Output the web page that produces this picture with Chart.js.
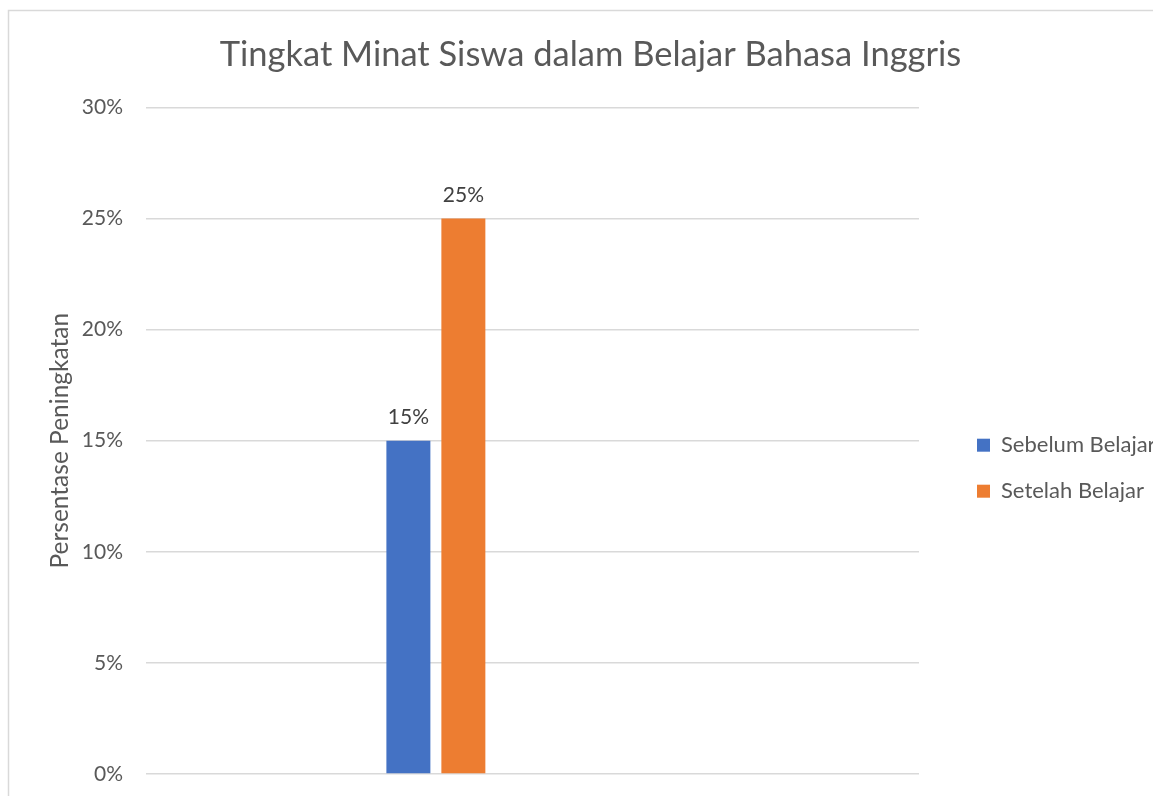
<!DOCTYPE html>
<html>
<head>
<meta charset="utf-8">
<script src="https://cdn.jsdelivr.net/npm/chart.js@4"></script>
<style>
  body { margin: 0; background: #fff; }
  #wrap { width: 1153px; height: 796px; position: relative; }
</style>
</head>
<body>
<div id="wrap"><canvas id="minatChart" width="1153" height="796"></canvas></div>
<script>
const categories = ['', '', '', ''];
const seriesNames = ['Sebelum Belajar', 'Setelah Belajar'];
const sebelum = [null, 0.15, null, null];
const setelah = [null, 0.25, null, null];
const yTicks = [0, 0.05, 0.1, 0.15, 0.2, 0.25, 0.3];

const textColor = '#595959';
const fontName = 'Lato, "Open Sans", sans-serif';

// light frame around the chart, like the office chart border
const framePlugin = {
    id: 'frame',
    beforeDraw: (chart) => {
        const ctx = chart.ctx;
        ctx.save();
        ctx.fillStyle = '#fff';
        ctx.fillRect(0, 0, chart.width, chart.height);
        ctx.strokeStyle = '#d9d9d9';
        ctx.lineWidth = 1.5;
        ctx.strokeRect(8.5, 10.5, 1300, 900);
        ctx.restore();
    }
};

// value labels above bars
const valueLabels = {
    id: 'valueLabels',
    afterDatasetsDraw: (chart) => {
        const ctx = chart.ctx;
        ctx.save();
        ctx.font = '21px ' + fontName;
        ctx.fillStyle = '#404040';
        ctx.textAlign = 'center';
        ctx.textBaseline = 'middle';
        chart.data.datasets.forEach((ds, i) => {
            chart.getDatasetMeta(i).data.forEach((bar, j) => {
                if (ds.data[j] == null) return;
                ctx.fillText(Math.round(ds.data[j] * 100) + '%', bar.x, bar.y - 23);
            });
        });
        ctx.restore();
    }
};

new Chart(document.getElementById('minatChart'), {
    type: 'bar',
    data: {
        labels: categories,
        datasets: [
            { label: seriesNames[0], data: sebelum, backgroundColor: '#4472c4', yAxisID: 'y' },
            { label: seriesNames[1], data: setelah, backgroundColor: '#ed7d31', yAxisID: 'y' }
        ]
    },
    options: {
        responsive: false,
        animation: false,
        categoryPercentage: 0.569,
        barPercentage: 0.8,
        layout: { padding: { left: 28, right: 0, top: 34, bottom: -13 } },
        plugins: {
            title: {
                display: true,
                text: 'Tingkat Minat Siswa dalam Belajar Bahasa Inggris',
                color: textColor,
                font: { family: fontName, size: 34.5, weight: 'normal' },
                padding: { top: 0, bottom: 32 }
            },
            legend: {
                position: 'right',
                maxWidth: 200,
                title: { display: true, text: '', padding: { top: 79, bottom: 0 } },
                labels: {
                    color: textColor,
                    font: { family: fontName, size: 22 },
                    boxWidth: 13,
                    boxHeight: 13,
                    padding: 24
                }
            },
            tooltip: { enabled: false }
        },
        scales: {
            x: {
                ticks: { display: false },
                grid: { display: false },
                border: { display: false },
                afterFit: (scale) => { scale.height = 0; }
            },
            y: {
                min: 0,
                max: 0.3,
                afterBuildTicks: (axis) => { axis.ticks = yTicks.map(v => ({ value: v })); },
                afterFit: (scale) => {
                    scale.width = 118;
                    scale.paddingBottom = 22;
                },
                ticks: {
                    color: textColor,
                    font: { family: fontName, size: 21 },
                    padding: 23,
                    callback: (v) => Math.round(v * 100) + '%'
                },
                grid: { color: '#d9d9d9', lineWidth: 1.5, drawTicks: false },
                border: { display: false },
                title: {
                    display: true,
                    text: 'Persentase Peningkatan',
                    color: textColor,
                    font: { family: fontName, size: 24.5 },
                    padding: { top: 17, bottom: 9 }
                }
            },
            // empty spacer between plot and legend
            gap: {
                type: 'linear',
                position: 'right',
                ticks: { display: false },
                grid: { display: false },
                border: { display: false },
                afterFit: (scale) => { scale.width = 34; }
            }
        }
    },
    plugins: [framePlugin, valueLabels]
});
</script>
</body>
</html>
